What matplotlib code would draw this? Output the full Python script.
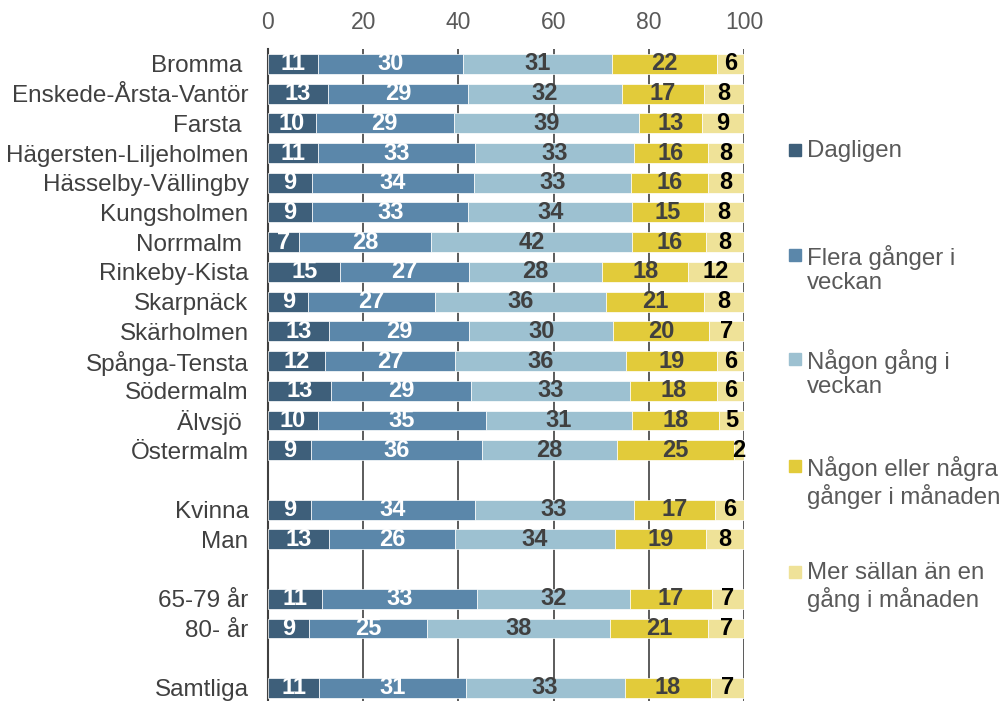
import numpy as np
import matplotlib
matplotlib.use('Agg')
import matplotlib.pyplot as plt
from matplotlib.patches import Rectangle

plt.rcParams['font.family'] = ['Liberation Sans', 'DejaVu Sans']

# categories, top to bottom ('' = empty slot between groups)
categories = ['Bromma ', 'Enskede-Årsta-Vantör', 'Farsta ', 'Hägersten-Liljeholmen',
              'Hässelby-Vällingby', 'Kungsholmen', 'Norrmalm ', 'Rinkeby-Kista',
              'Skarpnäck', 'Skärholmen', 'Spånga-Tensta', 'Södermalm', 'Älvsjö ',
              'Östermalm', '', 'Kvinna', 'Man', '', '65-79 år', '80- år', '', 'Samtliga']

series_names = ['Dagligen', 'Flera gånger i\nveckan', 'Någon gång i\nveckan',
                'Någon eller några\ngånger i månaden', 'Mer sällan än en\ngång i månaden']

# percent values (None = empty slot)
dagligen = [10.5, 12.6, 10.0, 10.5, 9.3, 9.3, 6.5, 15.2, 8.5, 12.9, 12.0, 13.3, 10.4, 9.1,
            None, 9.1, 12.9, None, 11.3, 8.6, None, 10.8]
flera = [30.4, 29.4, 29.0, 33.0, 33.9, 32.8, 27.7, 27.0, 26.6, 29.4, 27.3, 29.4, 35.4, 35.9,
         None, 34.3, 26.3, None, 32.6, 24.9, None, 30.7]
nagon_vecka = [31.4, 32.3, 39.0, 33.3, 33.1, 34.4, 42.3, 28.0, 35.9, 30.2, 36.0, 33.4, 30.6, 28.3,
               None, 33.4, 33.6, None, 32.1, 38.4, None, 33.4]
nagon_manad = [22.0, 17.4, 13.2, 15.6, 16.1, 15.1, 15.6, 18.1, 20.7, 20.2, 19.1, 18.3, 18.4, 24.5,
               None, 17.2, 19.3, None, 17.3, 20.6, None, 18.2]
mer_sallan = [5.7, 8.3, 8.8, 7.6, 7.6, 8.4, 7.9, 11.7, 8.3, 7.3, 5.6, 5.6, 5.2, 2.2,
              None, 6.0, 7.9, None, 6.7, 7.5, None, 6.9]

# labels shown on the bars
labels = [[11, 30, 31, 22, 6], [13, 29, 32, 17, 8], [10, 29, 39, 13, 9], [11, 33, 33, 16, 8],
          [9, 34, 33, 16, 8], [9, 33, 34, 15, 8], [7, 28, 42, 16, 8], [15, 27, 28, 18, 12],
          [9, 27, 36, 21, 8], [13, 29, 30, 20, 7], [12, 27, 36, 19, 6], [13, 29, 33, 18, 6],
          [10, 35, 31, 18, 5], [9, 36, 28, 25, 2], None, [9, 34, 33, 17, 6], [13, 26, 34, 19, 8],
          None, [11, 33, 32, 17, 7], [9, 25, 38, 21, 7], None, [11, 31, 33, 18, 7]]

colors = ['#3e5f7a', '#5b87aa', '#9dc1d1', '#e2cb3a', '#efe298']
label_colors = ['white', 'white', '#404040', '#404040', 'black']

fig = plt.figure(figsize=(10.07, 7.01), dpi=100)
ax = fig.add_axes([268/1007, 0, 476/1007, 652/701])

all_series = [dagligen, flera, nagon_vecka, nagon_manad, mer_sallan]
y = np.arange(len(categories))
for i in range(len(categories)):
    if all_series[0][i] is None:
        continue
    left = 0
    for s in range(5):
        w = all_series[s][i]
        ax.barh(y[i], w, left=left, height=0.67, color=colors[s],
                edgecolor='white', linewidth=0.5, zorder=3)
        ax.text(left + w/2, y[i], str(labels[i][s]), ha='center', va='center',
                color=label_colors[s], fontsize=17, fontweight='bold', zorder=4)
        left += w

ax.set_xlim(0, 100)
ax.set_ylim(21.44, -0.5)
ax.set_yticks(y)
ax.set_yticklabels(categories, fontsize=17.5, color='#404040')
ax.set_xticks(range(0, 101, 20))
ax.xaxis.tick_top()
ax.tick_params(axis='x', length=0, pad=11, labelsize=16.5, labelcolor='#595959')
ax.tick_params(axis='y', length=0, pad=14)
ax.grid(axis='x', color='#404040', linewidth=1.2, zorder=0)
for sp in ['top', 'right', 'bottom']:
    ax.spines[sp].set_visible(False)
ax.spines['left'].set_color('#404040')
ax.spines['left'].set_linewidth(1.5)

# legend on the right, drawn by hand
legend_y = [150, 255, 359, 466, 572]
for s in range(5):
    yc = 1 - legend_y[s]/701
    fig.patches.append(Rectangle((789/1007, yc - 6/701), 12/1007, 12/701,
                                 transform=fig.transFigure, color=colors[s]))
    fig.text(807/1007, yc + 10/701, series_names[s], ha='left', va='top',
             fontsize=17.3, color='#595959', linespacing=1.13)

fig.savefig('out.png', dpi=100)
